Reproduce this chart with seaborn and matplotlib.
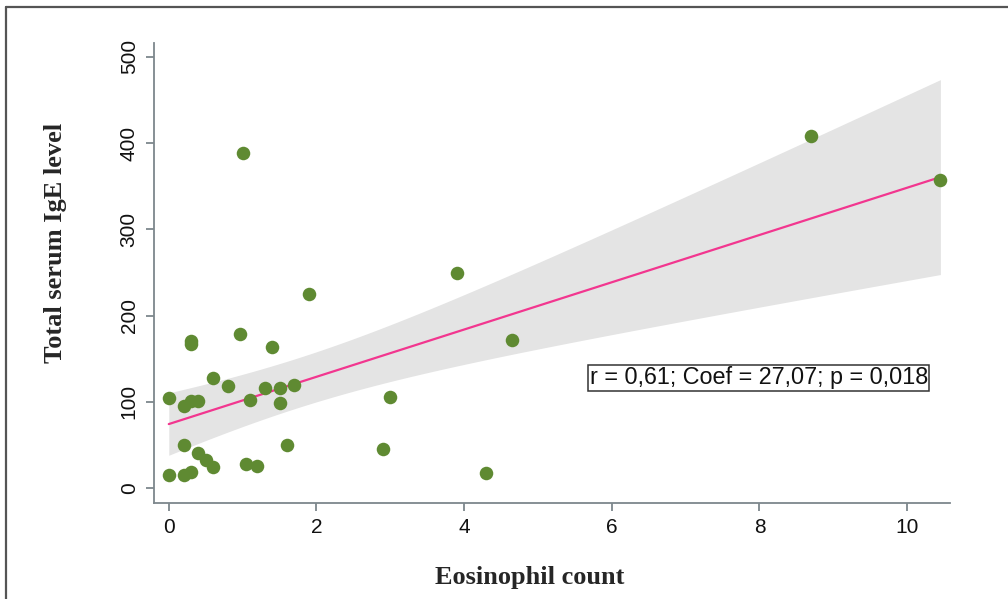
import numpy as np
import pandas as pd
import matplotlib
matplotlib.use("Agg")
import matplotlib.pyplot as plt
import seaborn as sns
from matplotlib.lines import Line2D

# ---- data ----
eosinophil = [0, 0, 0.2, 0.3, 0.4, 0.3, 0.3, 0.97, 1.4, 0.6, 0.8, 1.1, 1.3, 1.5,
              1.7, 1.5, 0.2, 0.4, 0.5, 0.6, 0.2, 0.3, 1.05, 1.2, 1.6, 1.0, 1.9,
              3.9, 4.65, 3.0, 2.9, 4.3, 8.7, 10.45]
ige = [104, 15, 95, 101, 101, 171, 167, 178, 163, 127, 118, 102, 116, 116,
       119, 98, 50, 41, 32, 24, 15, 18, 28, 26, 50, 389, 225,
       249, 172, 106, 45, 17, 408, 357]
x_ticks = [0, 2, 4, 6, 8, 10]
y_ticks = [0, 100, 200, 300, 400, 500]
annotation = "r = 0,61; Coef = 27,07; p = 0,018"
x_label = "Eosinophil count"
y_label = "Total serum IgE level"

df = pd.DataFrame({"Eosinophil count": eosinophil, "IgE": ige})

sns.set_style("white")
plt.rcParams["font.family"] = ["Liberation Sans", "DejaVu Sans"]

fig = plt.figure(figsize=(10.08, 5.99), dpi=100)
ax = fig.add_axes([154 / 1008, 1 - 503 / 599, (950 - 154) / 1008, (503 - 43) / 599])

# analytic 95% confidence band of the linear fit (as in Stata's lfitci)
xv = np.asarray(eosinophil, float)
yv = np.asarray(ige, float)
n = len(xv)
b1, b0 = np.polyfit(xv, yv, 1)
resid = yv - (b0 + b1 * xv)
s = np.sqrt(np.sum(resid ** 2) / (n - 2))
sxx = np.sum((xv - xv.mean()) ** 2)
grid = np.linspace(xv.min(), xv.max(), 200)
yhat = b0 + b1 * grid
tcrit = 2.0369  # t(0.975, df=32)
half = tcrit * s * np.sqrt(1 / n + (grid - xv.mean()) ** 2 / sxx)
ax.fill_between(grid, yhat - half, yhat + half, color="#e4e4e4", linewidth=0, zorder=0.5)

sns.regplot(data=df, x="Eosinophil count", y="IgE", ax=ax, ci=None,
            scatter_kws={"s": 95, "color": "#5f8a32", "alpha": 1, "linewidths": 0, "zorder": 3},
            line_kws={"color": "#f2368f", "linewidth": 1.6, "zorder": 2})

ax.set_xlim(-0.2, 10.58)
ax.set_ylim(-17.4, 516)
ax.set_xticks(x_ticks)
ax.set_yticks(y_ticks)
ax.set_xticklabels([str(t) for t in x_ticks], fontsize=15)
ax.set_yticklabels([str(t) for t in y_ticks], fontsize=15, rotation=90, va="center")

for side in ["top", "right"]:
    ax.spines[side].set_visible(False)
for side in ["left", "bottom"]:
    ax.spines[side].set_color("#7d878c")
    ax.spines[side].set_linewidth(1.3)
ax.tick_params(axis="both", which="major", length=6, width=1.3, color="#7d878c",
               labelcolor="#111111", direction="out", bottom=True, left=True, pad=5)

ax.set_xlabel(x_label, fontsize=19, fontweight="bold", family="Liberation Serif", va="center")
ax.set_ylabel(y_label, fontsize=19, fontweight="bold", family="Liberation Serif", va="center")
ax.xaxis.set_label_coords(0.472, -0.161)
ax.yaxis.set_label_coords(-0.124, 0.565)

ax.text(5.7, 128, annotation, fontsize=16.8, ha="left", va="center", color="#111111",
        bbox=dict(boxstyle="square,pad=0.06", facecolor="white", edgecolor="#333333", linewidth=1.1),
        zorder=4)

# outer frame (top and left edges visible in reference)
fig.add_artist(Line2D([5.5 / 1008, 1.0], [1 - 6.5 / 599, 1 - 6.5 / 599],
                      transform=fig.transFigure, color="#555555", linewidth=1.6))
fig.add_artist(Line2D([5.5 / 1008, 5.5 / 1008], [0, 1 - 6.5 / 599],
                      transform=fig.transFigure, color="#555555", linewidth=1.6))

fig.savefig("out.png", dpi=100)
